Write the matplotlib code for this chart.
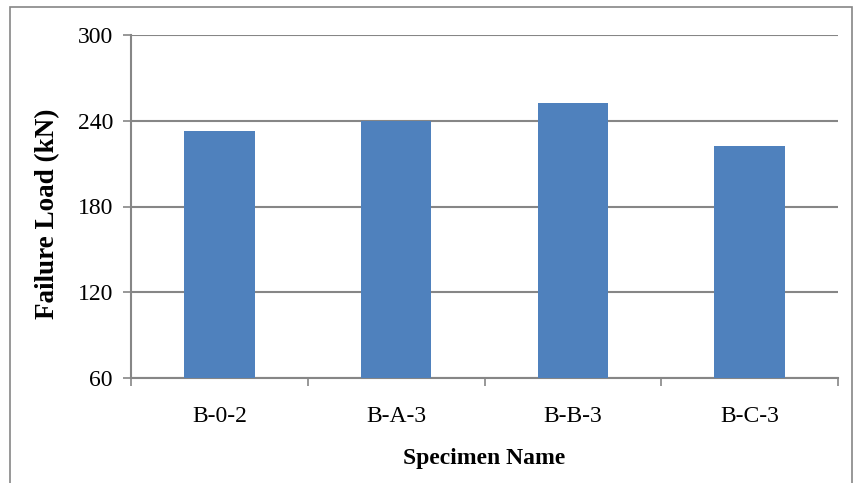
import matplotlib.pyplot as plt
from matplotlib.patches import Rectangle

specimens = ['B-0-2', 'B-A-3', 'B-B-3', 'B-C-3']
failure_load = [232.5, 240, 252.5, 222]
y_ticks = [60, 120, 180, 240, 300]

plt.rcParams['font.family'] = 'Liberation Serif'

fig = plt.figure(figsize=(8.56, 4.83), dpi=100)
ax = fig.add_axes([131/856, 1-378/483, (838-131)/856, (378-35)/483])

# outer chart border
fig.patches.append(Rectangle((10/856, -0.05), 1-10/856-4/856, 1.05-7/483,
                             transform=fig.transFigure, fill=False,
                             edgecolor='#868686', linewidth=1.2))

x = list(range(len(specimens)))
ax.bar(x, failure_load, width=0.4, color='#4F81BD', zorder=3)

ax.set_ylim(60, 300)
ax.set_xlim(-0.5, len(specimens)-0.5)
ax.set_yticks(y_ticks)
ax.yaxis.grid(True, color='#868686', linewidth=1.5, zorder=0)
ax.set_xticks(x)
ax.set_xticklabels(specimens, fontsize=17)
ax.tick_params(axis='x', length=0, pad=20)
ax.tick_params(axis='y', labelsize=17, length=6, width=1.2, color='#868686', pad=7)
# category boundary ticks
ax.set_xticks([i-0.5 for i in range(len(specimens)+1)], minor=True)
ax.tick_params(axis='x', which='minor', length=6, width=1.2, color='#868686')

for s in ['top', 'right']:
    ax.spines[s].set_visible(False)
for s in ['left', 'bottom']:
    ax.spines[s].set_color('#868686')
    ax.spines[s].set_linewidth(1.5)

ax.set_xlabel('Specimen Name', fontsize=17, fontweight='bold')
ax.xaxis.set_label_coords(0.5, -0.203)
ax.set_ylabel('Failure Load (kN)', fontsize=19.5, fontweight='bold')
ax.yaxis.set_label_coords(-0.1, 0.48)

fig.savefig('out.png', dpi=100)
